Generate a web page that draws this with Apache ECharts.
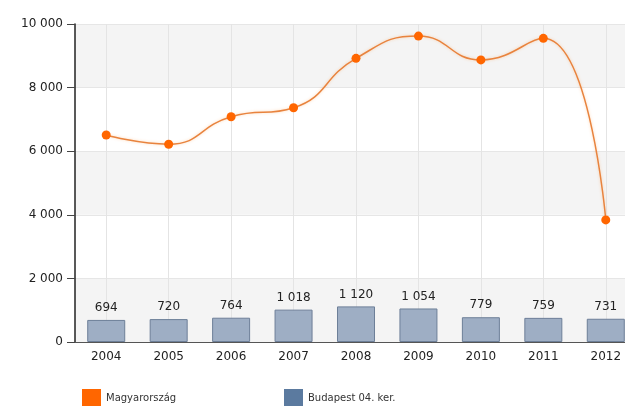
<!DOCTYPE html>
<html>
<head>
<meta charset="utf-8">
<script src="https://cdn.jsdelivr.net/npm/echarts@6/dist/echarts.min.js"></script>
<style>
html,body{margin:0;padding:0;background:#fff;overflow:hidden;width:625px;height:406px;}
#chart{width:637px;height:406px;}
</style>
</head>
<body>
<div id="chart"></div>
<script>
var years = ['2004','2005','2006','2007','2008','2009','2010','2011','2012'];
var magyarorszag = [6510, 6220, 7085, 7365, 8920, 9620, 8870, 9550, 3840];
var budapest = [694, 720, 764, 1018, 1120, 1054, 779, 759, 731];
var yTicks = [0, 2000, 4000, 6000, 8000, 10000];

function fmt(v){ return String(v).replace(/\B(?=(\d{3})+(?!\d))/g, ' '); }

var helperCats = [];
for (var i = 0; i < years.length * 2 + 1; i++) helperCats.push('');

var chart = echarts.init(document.getElementById('chart'));
var font = 'DejaVu Sans';
chart.setOption({
  animation: false,
  textStyle: {fontFamily: font},
  grid: {left: 75, right: 0, top: 24, bottom: 64, containLabel: false},
  legend: [
    {data: [{name: 'Magyarország', itemStyle: {color: '#ff6600'}}], left: 82, top: 389, padding: 0, icon: 'rect',
     itemWidth: 19, itemHeight: 19, itemGap: 6,
     textStyle: {fontFamily: font, fontSize: 10, color: '#333'}},
    {data: [{name: 'Budapest 04. ker.', itemStyle: {color: '#5b7a9f', borderWidth: 0}}], left: 284, top: 389, padding: 0, icon: 'rect',
     itemWidth: 19, itemHeight: 19,
     textStyle: {fontFamily: font, fontSize: 10, color: '#333'}}
  ],
  xAxis: [
    {type: 'category', data: years, boundaryGap: true,
     axisLine: {lineStyle: {color: '#555', width: 1}},
     axisTick: {alignWithLabel: true, length: 5, lineStyle: {color: '#333'}},
     axisLabel: {fontSize: 12, color: '#222', margin: 9, fontFamily: font},
     splitLine: {show: false}},
    {type: 'category', data: helperCats, boundaryGap: false, position: 'bottom',
     axisLine: {show: false}, axisTick: {show: false}, axisLabel: {show: false},
     splitLine: {show: true, interval: function(i){ return i % 2 === 1; }, lineStyle: {color: '#e4e4e4', width: 1}}}
  ],
  yAxis: {type: 'value', min: yTicks[0], max: yTicks[yTicks.length-1], interval: 2000,
    axisLine: {show: true, lineStyle: {color: '#222', width: 1.5}},
    axisTick: {show: true, length: 8, lineStyle: {color: '#444'}},
    axisLabel: {fontSize: 12, color: '#222', margin: 12, formatter: fmt, fontFamily: font},
    splitLine: {show: true, lineStyle: {color: '#e6e6e6'}},
    splitArea: {show: true, areaStyle: {color: ['#f4f4f4', '#ffffff']}}
  },
  series: [
    {name: 'Budapest 04. ker.', type: 'bar', data: budapest, barWidth: 38, z: 2,
     itemStyle: {color: '#9eaec4', borderColor: '#6d7f98', borderWidth: 1},
     label: {show: true, position: 'top', distance: 6, color: '#222', fontSize: 12,
             fontFamily: font, formatter: function(p){ return fmt(p.value); }}},
    {name: 'Magyarország', type: 'line', data: magyarorszag, smooth: 0.5, z: 3,
     symbol: 'circle', symbolSize: 9,
     lineStyle: {color: '#e8833e', width: 1.5, shadowColor: 'rgba(255,140,40,0.35)', shadowBlur: 3},
     itemStyle: {color: '#ff6600'}}
  ]
});
</script>
</body>
</html>
